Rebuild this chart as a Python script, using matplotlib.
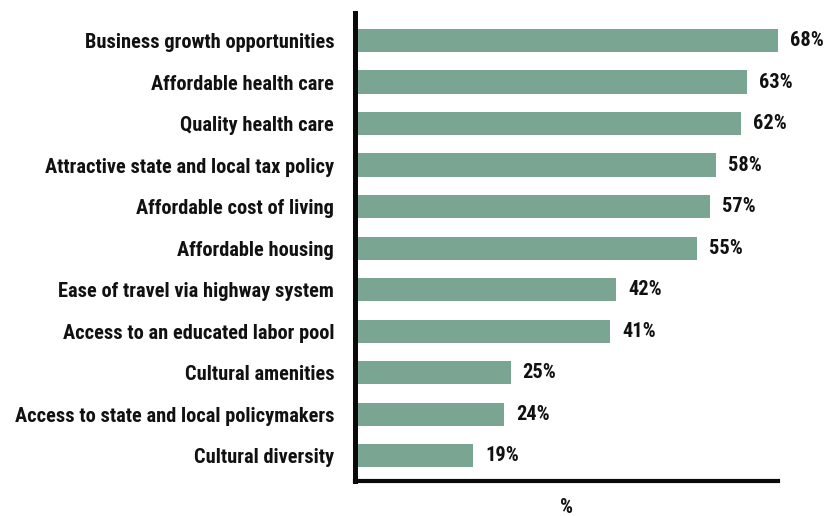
import matplotlib
matplotlib.use("Agg")
import matplotlib.pyplot as plt
from matplotlib import font_manager
from matplotlib.font_manager import FontProperties

categories = [
    "Business growth opportunities",
    "Affordable health care",
    "Quality health care",
    "Attractive state and local tax policy",
    "Affordable cost of living",
    "Affordable housing",
    "Ease of travel via highway system",
    "Access to an educated labor pool",
    "Cultural amenities",
    "Access to state and local policymakers",
    "Cultural diversity",
]
values = [68, 63, 62, 58, 57, 55, 42, 41, 25, 24, 19]
value_labels = [f"{v}%" for v in values]
axis_label = "%"


def find_condensed_bold():
    """Return the file of a bold condensed/narrow sans face, if one is installed."""
    hits = []
    for f in font_manager.fontManager.ttflist:
        key = (f.name + " " + f.fname + " " + str(f.stretch)).lower()
        narrow = ("condensed" in key) or ("narrow" in key)
        w = f.weight if isinstance(f.weight, int) else font_manager.weight_dict.get(f.weight, 400)
        if narrow and 600 <= w <= 800 and f.style == "normal" and "semi" not in key and "extra" not in key:
            hits.append(f)
    order = ["liberation", "roboto", "open sans", "noto sans", "dejavu"]

    def rank(f):
        n = (f.name + f.fname).lower()
        for i, o in enumerate(order):
            if o in n:
                return i
        return len(order)
    hits.sort(key=rank)
    return hits[0].fname if hits else None


cond_file = find_condensed_bold()
if cond_file:
    def fp(size):
        return FontProperties(fname=cond_file, size=size)
    label_size = 14.7
else:
    def fp(size):
        return FontProperties(family="Liberation Sans", weight="bold", size=size)
    label_size = 12.2

bar_color = "#7ba593"
text_color = "#111111"

fig = plt.figure(figsize=(8.3, 5.16), dpi=100)
ax = fig.add_axes([355 / 830, 35 / 516, 423 / 830, 468 / 516])

y = list(range(len(categories)))
ax.barh(y, values, height=0.555, color=bar_color, left=0)

for yi, v, lab in zip(y, values, value_labels):
    ax.annotate(lab, xy=(v, yi), xytext=(12, 0), textcoords="offset pixels",
                va="center", ha="left", fontproperties=fp(label_size), color=text_color)

ax.set_xlim(0, 68)
ax.set_ylim(10.614, -0.663)
ax.set_yticks(y)
ax.set_yticklabels(categories, color=text_color)
for t in ax.get_yticklabels():
    t.set_fontproperties(fp(label_size))
ax.tick_params(axis="y", length=0, pad=15)
ax.set_xticks([])

ax.set_xlabel(axis_label, fontproperties=fp(label_size), color=text_color, labelpad=12)

for side in ("top", "right"):
    ax.spines[side].set_visible(False)
ax.spines["left"].set_linewidth(3.6)
ax.spines["bottom"].set_linewidth(3.0)
ax.spines["left"].set_color("#0a0a0a")
ax.spines["bottom"].set_color("#0a0a0a")
ax.spines["left"].set_capstyle("projecting")
ax.spines["bottom"].set_capstyle("projecting")

fig.savefig("out.png", dpi=100)
